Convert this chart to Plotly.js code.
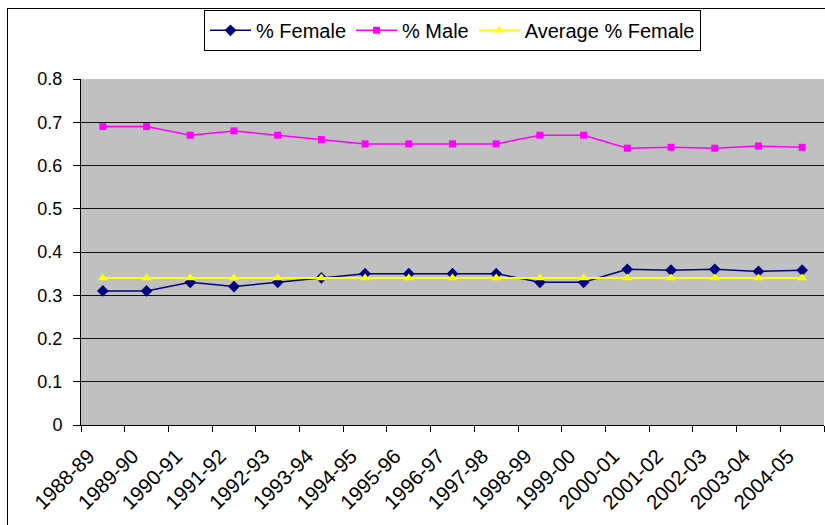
<!DOCTYPE html>
<html>
<head>
<meta charset="utf-8">
<script src="https://cdn.plot.ly/plotly-3.0.1.min.js"></script>
<style>
  html, body { margin: 0; padding: 0; background: #fff; overflow: hidden; }
  #wrap { position: relative; width: 825px; height: 525px; }
  #chart { width: 825px; height: 525px; }
  #frame {
    position: absolute; left: 7px; top: 8px; width: 840px; height: 540px;
    border: 1px solid #000; pointer-events: none; box-sizing: border-box;
  }
</style>
</head>
<body>
<div id="wrap">
  <div id="chart"></div>
  <div id="frame"></div>
</div>
<script>
// Academic years
const years = [
  "1988-89", "1989-90", "1990-91", "1991-92", "1992-93", "1993-94",
  "1994-95", "1995-96", "1996-97", "1997-98", "1998-99", "1999-00",
  "2000-01", "2001-02", "2002-03", "2003-04", "2004-05"
];

// Share of female students per year
const pctFemale = [
  0.31, 0.31, 0.33, 0.32, 0.33, 0.34,
  0.35, 0.35, 0.35, 0.35, 0.33, 0.33,
  0.36, 0.358, 0.36, 0.355, 0.358
];

// Share of male students per year
const pctMale = [
  0.69, 0.69, 0.67, 0.68, 0.67, 0.66,
  0.65, 0.65, 0.65, 0.65, 0.67, 0.67,
  0.64, 0.642, 0.64, 0.645, 0.642
];

// Average female share over the whole period
const avgFemale = [
  0.34, 0.34, 0.34, 0.34, 0.34, 0.34,
  0.34, 0.34, 0.34, 0.34, 0.34, 0.34,
  0.34, 0.34, 0.34, 0.34, 0.34
];

const yTicks = [0, 0.1, 0.2, 0.3, 0.4, 0.5, 0.6, 0.7, 0.8];

const traces = [
  {
    name: "% Female", x: years, y: pctFemale, type: "scatter", mode: "lines+markers",
    line: { color: "#000080", width: 1.5 },
    marker: { symbol: "diamond", size: 9, color: "#000080" }
  },
  {
    name: "% Male", x: years, y: pctMale, type: "scatter", mode: "lines+markers",
    line: { color: "#FF00FF", width: 1.5 },
    marker: { symbol: "square", size: 7, color: "#FF00FF" }
  },
  {
    name: "Average % Female", x: years, y: avgFemale, type: "scatter", mode: "lines+markers",
    line: { color: "#FFFF00", width: 2 },
    marker: { symbol: "triangle-up", size: 9, color: "#FFFF00" }
  }
];

const layout = {
  width: 825, height: 525,
  margin: { l: 81, r: 1, t: 79, b: 100 },
  paper_bgcolor: "#ffffff",
  plot_bgcolor: "#C0C0C0",
  font: { family: "Liberation Sans, Arial, sans-serif", color: "#000", size: 18 },
  showlegend: true,
  legend: {
    orientation: "h", x: 0.5, xanchor: "center", y: 1.2, yanchor: "top",
    bgcolor: "#ffffff", bordercolor: "#000", borderwidth: 1,
    font: { size: 20 }, itemwidth: 41, tracegroupgap: 0
  },
  xaxis: {
    type: "category", range: [-0.5, years.length - 0.5],
    tickson: "boundaries", ticks: "outside", ticklen: 6, tickcolor: "#000",
    tickangle: -45, tickfont: { size: 20.5 },
    ticklabelstandoff: 10, ticklabelshift: -14,
    showgrid: false, showline: true, linecolor: "#000", linewidth: 1,
    zeroline: false, fixedrange: true
  },
  yaxis: {
    range: [0, 0.8], tickvals: yTicks, ticktext: yTicks.map(String),
    ticks: "outside", ticklen: 7, tickcolor: "#000", ticklabelstandoff: 7,
    showgrid: true, gridcolor: "#111", gridwidth: 1,
    showline: true, linecolor: "#000", linewidth: 1,
    zeroline: false, tickfont: { size: 18 }, fixedrange: true
  }
};

Plotly.newPlot("chart", traces, layout, { displayModeBar: false, staticPlot: true });
</script>
</body>
</html>
